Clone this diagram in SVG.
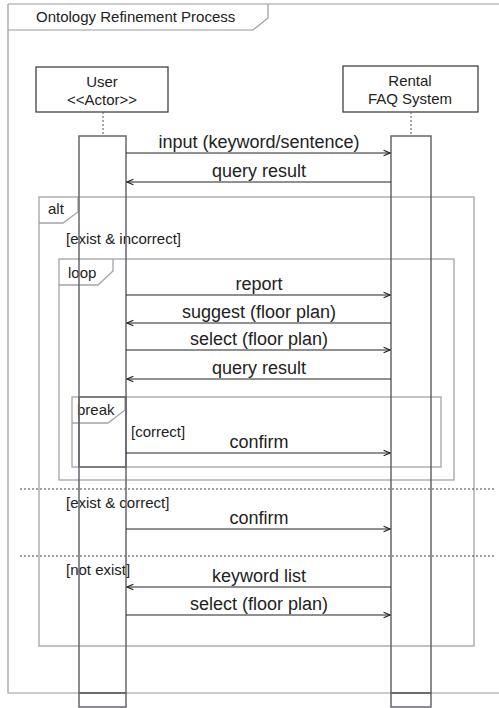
<svg xmlns="http://www.w3.org/2000/svg" width="499" height="708" viewBox="0 0 499 708">
  <style>
    .frame { fill: none; stroke: #a3a3aa; stroke-width: 1.3; }
    .outer { fill: none; stroke: #9a9aa0; stroke-width: 1.2; }
    .act { fill: none; stroke: #66666e; stroke-width: 1.5; }
    .node { fill: #ffffff; stroke: #333333; stroke-width: 1.2; }
    .life { stroke: #555555; stroke-width: 1; stroke-dasharray: 2 2; }
    .sep { stroke: #444444; stroke-width: 1; stroke-dasharray: 2 2; }
    .msg { stroke: #222222; stroke-width: 1.2; fill: none; }
    .lbl { font-family: "Liberation Sans", Arial, sans-serif; font-size: 15px; fill: #222222; }
    .mtx { font-family: "Liberation Sans", Arial, sans-serif; font-size: 18px; fill: #222222; text-anchor: middle; }
    .ctr { text-anchor: middle; }
  </style>
  <defs>
    <marker id="open" viewBox="0 0 10 10" refX="9" refY="5" markerWidth="8" markerHeight="8" markerUnits="userSpaceOnUse" orient="auto">
      <path d="M1,1.5 L9,5 L1,8.5" fill="none" stroke="#222222" stroke-width="1.3"/>
    </marker>
  </defs>
  <rect width="499" height="708" fill="#ffffff"/>

  <!-- outer sequence frame with its title tab -->
  <g id="frame-main">
    <path class="outer" d="M8,4 H499 M8,4 V693 H499"/>
    <path class="outer" d="M8,30 H253 L268,18 V4"/>
    <text class="lbl" x="36" y="22">Ontology Refinement Process</text>
  </g>

  <!-- lifeline heads -->
  <g id="user">
    <rect class="node" x="36" y="67" width="132" height="45"/>
    <text class="lbl ctr" x="102" y="87">User</text>
    <text class="lbl ctr" x="102" y="105">&lt;&lt;Actor&gt;&gt;</text>
    <line class="life" x1="103" y1="112" x2="103" y2="136"/>
  </g>
  <g id="rental-faq-system">
    <rect class="node" x="343" y="66" width="135" height="46"/>
    <text class="lbl ctr" x="410" y="86">Rental</text>
    <text class="lbl ctr" x="410" y="104">FAQ System</text>
    <line class="life" x1="411" y1="112" x2="411" y2="136"/>
  </g>

  <!-- combined fragments -->
  <g id="alt">
    <rect class="frame" x="39" y="197" width="435" height="449"/>
    <path class="frame" d="M39,223 H63 L78,212 V197"/>
    <text class="lbl" x="48" y="214">alt</text>
    <text class="lbl" x="66" y="244">[exist &amp; incorrect]</text>
    <line class="sep" x1="20" y1="489" x2="494" y2="489"/>
    <text class="lbl" x="66" y="508">[exist &amp; correct]</text>
    <line class="sep" x1="20" y1="556" x2="494" y2="556"/>
    <text class="lbl" x="66" y="575">[not exist]</text>
  </g>
  <g id="loop">
    <rect class="frame" x="59" y="259" width="395" height="221"/>
    <path class="frame" d="M59,285 H98 L113,271 V259"/>
    <text class="lbl" x="68" y="278">loop</text>
  </g>
  <g id="break">
    <rect class="frame" x="72" y="397" width="369" height="70"/>
    <path class="frame" d="M72,423 H108 L125,410 V397"/>
    <text class="lbl" x="77" y="415">break</text>
    <text class="lbl" x="131" y="437">[correct]</text>
  </g>

  <!-- activation bars -->
  <g id="user-activation">
    <rect class="act" x="79" y="136" width="47" height="557"/>
    <rect class="act" x="79" y="693" width="47" height="14"/>
    <rect class="act" x="79" y="397" width="47" height="70"/>
  </g>
  <g id="system-activation">
    <rect class="act" x="391" y="136" width="40" height="557"/>
    <rect class="act" x="391" y="693" width="40" height="14"/>
  </g>

  <!-- messages -->
  <g id="connectors">
    <line class="msg" x1="126" y1="153" x2="390" y2="153" marker-end="url(#open)"/>
    <line class="msg" x1="391" y1="182" x2="127" y2="182" marker-end="url(#open)"/>
    <line class="msg" x1="126" y1="295" x2="390" y2="295" marker-end="url(#open)"/>
    <line class="msg" x1="391" y1="323" x2="127" y2="323" marker-end="url(#open)"/>
    <line class="msg" x1="126" y1="350" x2="390" y2="350" marker-end="url(#open)"/>
    <line class="msg" x1="391" y1="379" x2="127" y2="379" marker-end="url(#open)"/>
    <line class="msg" x1="126" y1="453" x2="390" y2="453" marker-end="url(#open)"/>
    <line class="msg" x1="126" y1="529" x2="390" y2="529" marker-end="url(#open)"/>
    <line class="msg" x1="391" y1="587" x2="127" y2="587" marker-end="url(#open)"/>
    <line class="msg" x1="126" y1="615" x2="390" y2="615" marker-end="url(#open)"/>
  </g>
  <g id="message-labels">
    <text class="mtx" x="259" y="148">input (keyword/sentence)</text>
    <text class="mtx" x="259" y="177">query result</text>
    <text class="mtx" x="259" y="290">report</text>
    <text class="mtx" x="259" y="318">suggest (floor plan)</text>
    <text class="mtx" x="259" y="345">select (floor plan)</text>
    <text class="mtx" x="259" y="374">query result</text>
    <text class="mtx" x="259" y="448">confirm</text>
    <text class="mtx" x="259" y="524">confirm</text>
    <text class="mtx" x="259" y="582">keyword list</text>
    <text class="mtx" x="259" y="610">select (floor plan)</text>
  </g>
</svg>
